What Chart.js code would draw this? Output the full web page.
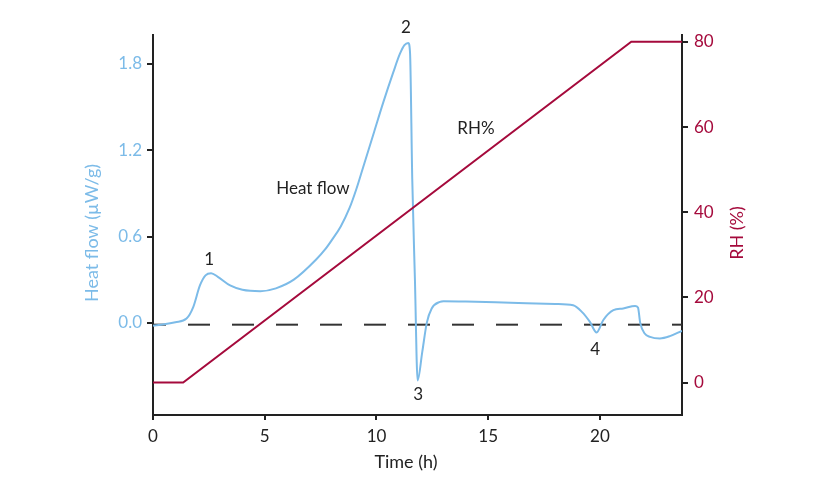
<!DOCTYPE html>
<html><head><meta charset="utf-8">
<script src="https://cdn.jsdelivr.net/npm/chart.js@4.4.1/dist/chart.umd.min.js"></script>
<style>html,body{margin:0;padding:0;background:#fff;}canvas{display:block;}</style>
</head><body>
<canvas id="c" width="830" height="493"></canvas>
<script>
// ---- data ----
const timeHF = [0, 0.5, 1.0, 1.5, 1.8, 2.1, 2.35, 2.6, 2.9, 3.45, 4.0, 4.8, 5.5, 6.3, 7.3, 7.7, 8.0, 8.4, 8.8, 9.1, 9.4, 9.9, 10.3, 10.75, 11.05, 11.25, 11.42, 11.5, 11.6, 11.72, 11.84, 12.05, 12.25, 12.47, 12.84, 13.0, 14.0, 16.0, 18.0, 18.8, 19.2, 19.55, 19.85, 20.15, 20.6, 21.04, 21.57, 21.7, 21.8, 22.0, 22.24, 22.68, 23.13, 23.67];
const heatFlow = [-0.02, -0.01, 0.005, 0.03, 0.11, 0.26, 0.33, 0.345, 0.32, 0.26, 0.23, 0.22, 0.24, 0.30, 0.44, 0.51, 0.575, 0.67, 0.80, 0.93, 1.08, 1.33, 1.53, 1.74, 1.87, 1.93, 1.945, 1.88, 1.0, 0.3, -0.40, -0.20, 0.0, 0.10, 0.146, 0.15, 0.148, 0.14, 0.132, 0.123, 0.075, 0.007, -0.067, 0.02, 0.088, 0.10, 0.118, 0.107, 0.0, -0.074, -0.097, -0.108, -0.092, -0.055];
const timeRH = [0, 1.35, 21.4, 23.67];
const rhValues = [0, 0, 80, 80];
const baselineTime = [0, 23.67];
const baselineValue = [-0.0125, -0.0125];
const xTicks = [0, 5, 10, 15, 20];
const hfTicks = [0, 0.6, 1.2, 1.8];
const rhTicks = [0, 20, 40, 60, 80];
const labelTexts = ['1', '2', '3', '4', 'Heat flow', 'RH%'];
const labelTimes = [2.51, 11.32, 11.86, 19.78, 7.16, 14.45];
const labelHF = [0.44, 2.05, -0.495, -0.183, 0.935, 1.35];

const BLUE = '#7cbbe8', RED = '#a50a3c', INK = '#222';
const FONT = 'Lato, "Open Sans", sans-serif';

const toPts = (xs, ys) => xs.map((x, i) => ({x, y: ys[i]}));
const setTicks = arr => scale => { scale.ticks = arr.map(v => ({value: v})); };

const textPlugin = {
  id: 'texts',
  afterDraw(chart) {
    const ctx = chart.ctx, x = chart.scales.x, y = chart.scales.y;
    ctx.save();
    ctx.fillStyle = INK;
    ctx.font = '17px ' + FONT;
    ctx.textAlign = 'center';
    ctx.textBaseline = 'middle';
    labelTexts.forEach((t, i) => {
      ctx.fillText(t, x.getPixelForValue(labelTimes[i]), y.getPixelForValue(labelHF[i]));
    });
    // axis titles
    ctx.font = '18px ' + FONT;
    ctx.fillText('Time (h)', 406, 462);
    ctx.save();
    ctx.translate(92, 233); ctx.rotate(-Math.PI / 2);
    ctx.fillStyle = BLUE; ctx.fillText('Heat flow (µW/g)', 0, 0);
    ctx.restore();
    ctx.save();
    ctx.translate(737, 233); ctx.rotate(-Math.PI / 2);
    ctx.fillStyle = RED; ctx.fillText('RH (%)', 0, 0);
    ctx.restore();
    ctx.restore();
  }
};

new Chart(document.getElementById('c'), {
  type: 'line',
  data: {
    datasets: [
      {label: 'RH%', data: toPts(timeRH, rhValues), yAxisID: 'y1', borderColor: RED, borderWidth: 2, pointRadius: 0, tension: 0},
      {label: 'Heat flow', data: toPts(timeHF, heatFlow), yAxisID: 'y', borderColor: BLUE, borderWidth: 2, pointRadius: 0, cubicInterpolationMode: 'monotone'},
      {label: 'Baseline', data: toPts(baselineTime, baselineValue), yAxisID: 'y', borderColor: '#333', borderWidth: 2, pointRadius: 0, borderDash: [22, 22], borderDashOffset: 9}
    ]
  },
  options: {
    responsive: false,
    animation: false,
    devicePixelRatio: 1,
    layout: {padding: {top: 35, left: 0, right: 0, bottom: 0}},
    plugins: {legend: {display: false}, tooltip: {enabled: false}},
    scales: {
      x: {
        type: 'linear', min: 0, max: 23.67,
        afterBuildTicks: setTicks(xTicks),
        afterFit: s => { s.height = 78; },
        border: {display: true, color: INK, width: 2},
        grid: {display: true, drawOnChartArea: false, drawTicks: true, tickLength: 5, color: INK, lineWidth: 2},
        ticks: {color: INK, font: {family: FONT, size: 17}, padding: 6, maxRotation: 0}
      },
      y: {
        type: 'linear', position: 'left', min: -0.64, max: 2.0,
        afterBuildTicks: setTicks(hfTicks),
        afterFit: s => { s.width = 153; },
        border: {display: true, color: INK, width: 2},
        grid: {display: true, drawOnChartArea: false, drawTicks: true, tickLength: 6, color: INK, lineWidth: 2},
        ticks: {color: BLUE, font: {family: FONT, size: 17}, padding: 5, callback: v => v.toFixed(1)}
      },
      y1: {
        type: 'linear', position: 'right', min: -7.6, max: 81.6,
        afterBuildTicks: setTicks(rhTicks),
        afterFit: s => { s.width = 148; },
        border: {display: true, color: INK, width: 2},
        grid: {display: true, drawOnChartArea: false, drawTicks: true, tickLength: 6, color: INK, lineWidth: 2},
        ticks: {color: RED, font: {family: FONT, size: 17}, padding: 6}
      }
    }
  },
  plugins: [textPlugin]
});
</script>
</body></html>
